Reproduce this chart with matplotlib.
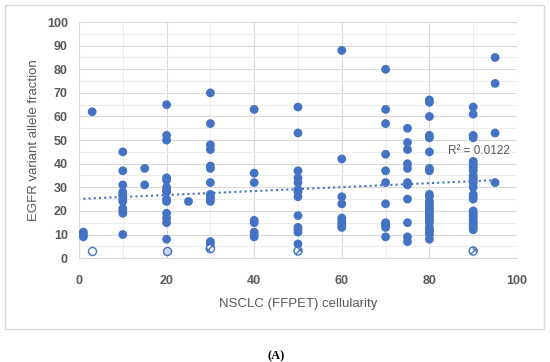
import numpy as np
import matplotlib
matplotlib.use("Agg")
import matplotlib.pyplot as plt
from matplotlib.patches import Rectangle
from matplotlib.ticker import MultipleLocator

# ---- data ----
x_1 = [1, 1, 1]
y_1 = [11, 10, 9]
x_3 = [3]
y_3 = [62]
x_10 = [10] * 12
y_10 = [45, 37, 31, 28, 27, 26, 25, 24, 21, 20, 19, 10]
x_15 = [15, 15]
y_15 = [38, 31]
x_20 = [20] * 14
y_20 = [65, 52, 50, 34, 33, 30, 29, 28, 25, 24, 19, 17, 15, 8]
x_25 = [25]
y_25 = [24]
x_30 = [30] * 13
y_30 = [70, 57, 48, 46, 39, 38, 32, 27, 26, 25, 24, 7, 6]
x_40 = [40] * 8
y_40 = [63, 36, 32, 16, 15, 11, 10, 9]
x_50 = [50] * 13
y_50 = [64, 53, 37, 34, 32, 29, 28, 26, 18, 13, 12, 11, 6]
x_60 = [60] * 9
y_60 = [88, 42, 26, 23, 17, 16, 15, 14, 13]
x_70 = [70] * 11
y_70 = [80, 63, 57, 44, 37, 32, 23, 15, 14, 13, 9]
x_75 = [75] * 11
y_75 = [55, 49, 46, 40, 38, 32, 31, 25, 15, 9, 7]
x_80 = [80] * 25
y_80 = [67, 66, 60, 52, 51, 45, 38, 37, 27, 26, 24, 23, 22, 21, 20, 19, 18,
        17, 16, 15, 13, 12, 11, 10, 8]
x_90 = [90] * 26
y_90 = [64, 61, 52, 51, 41, 40, 39, 38, 37, 35, 34, 33, 32, 30, 27, 26, 25,
        20, 19, 18, 17, 16, 15, 14, 13, 12]
x_95 = [95] * 4
y_95 = [85, 74, 53, 32]

# special (non-filled) points
open_x = [3]
open_y = [3]
light_x = [20]
light_y = [3]
hatch_x = [30, 50, 90]
hatch_y = [4, 3, 3]

r2_label = "R² = 0.0122"
x_label = "NSCLC (FFPET) cellularity"
y_label = "EGFR variant allele fraction"
panel_label = "(A)"

xs = np.array(x_1 + x_3 + x_10 + x_15 + x_20 + x_25 + x_30 + x_40 + x_50 +
              x_60 + x_70 + x_75 + x_80 + x_90 + x_95, dtype=float)
ys = np.array(y_1 + y_3 + y_10 + y_15 + y_20 + y_25 + y_30 + y_40 + y_50 +
              y_60 + y_70 + y_75 + y_80 + y_90 + y_95, dtype=float)

blue = "#4472C4"
grey = "#595959"

fig = plt.figure(figsize=(5.5, 3.62), dpi=100)
fig.patches.append(Rectangle((0.009, 0.091), 0.980, 0.895, transform=fig.transFigure,
                             fill=False, edgecolor="#d9d9d9", linewidth=1.0))
ax = fig.add_axes([0.1436, 0.287, 0.7964, 0.652])

ax.set_xlim(0, 100)
ax.set_ylim(0, 100)
ax.xaxis.set_major_locator(MultipleLocator(20))
ax.xaxis.set_minor_locator(MultipleLocator(10))
ax.yaxis.set_major_locator(MultipleLocator(10))
ax.yaxis.set_minor_locator(MultipleLocator(5))
ax.grid(which="major", color="#d9d9d9", linewidth=0.8)
ax.grid(which="minor", color="#ececec", linewidth=0.7)
ax.set_axisbelow(True)
for s in ax.spines.values():
    s.set_visible(False)
ax.spines["bottom"].set_visible(True)
ax.spines["bottom"].set_color("#d9d9d9")
ax.tick_params(which="both", length=0)
ax.tick_params(axis="both", labelsize=9, colors=grey)
ax.tick_params(axis="x", pad=12)
ax.tick_params(axis="y", pad=8)
for lab in ax.get_xticklabels() + ax.get_yticklabels():
    lab.set_fontweight("bold")
    lab.set_family("Liberation Sans")

ax.scatter(xs, ys, s=40, color=blue, edgecolors="none", zorder=3)
ax.scatter(open_x, open_y, s=34, facecolors="white", edgecolors=blue, linewidths=1.0, zorder=3)
ax.scatter(light_x, light_y, s=34, facecolors="#c9d6ee", edgecolors=blue, linewidths=1.0, zorder=3)
ax.scatter(hatch_x, hatch_y, s=34, facecolors="white", edgecolors=blue, linewidths=1.0,
           hatch="xxxx", zorder=3)

# linear trendline over all points
all_x = np.concatenate([xs, open_x, light_x, hatch_x])
all_y = np.concatenate([ys, open_y, light_y, hatch_y])
coef = np.polyfit(all_x, all_y, 1)
xt = np.array([all_x.min(), all_x.max()])
ax.plot(xt, np.polyval(coef, xt), linestyle=(0, (1, 1.5)), color=blue, linewidth=1.5, zorder=4)

ax.text(91.3, 45.3, r2_label, ha="center", va="center", fontsize=8.5, color=grey,
        family="Liberation Sans", zorder=5)

ax.set_xlabel(x_label, fontsize=9.5, color=grey, family="Liberation Sans", labelpad=8)
ax.set_ylabel(y_label, fontsize=9.5, color=grey, family="Liberation Sans", labelpad=5)

fig.text(0.502, 0.0166, panel_label, ha="center", va="center", fontsize=9,
         fontweight="bold", family="Liberation Serif", color="black")

fig.savefig("out.png", dpi=100)
